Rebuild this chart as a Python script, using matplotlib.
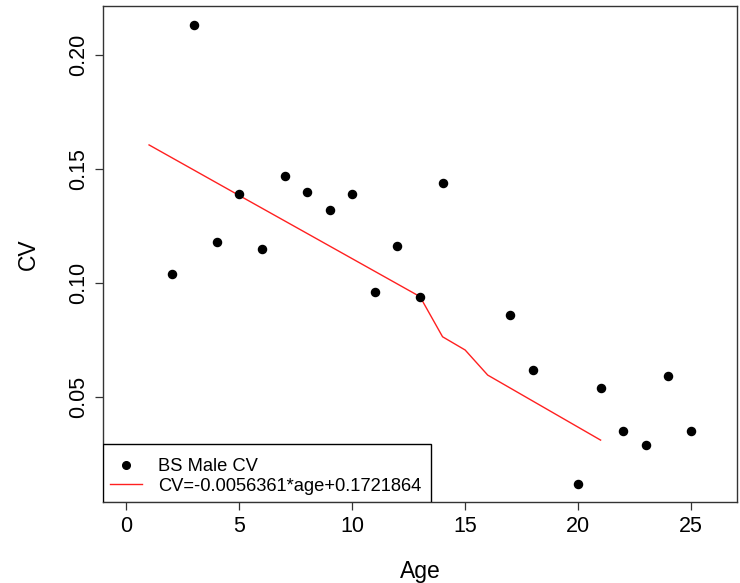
import matplotlib.pyplot as plt
from matplotlib.lines import Line2D
from matplotlib.patches import Rectangle

plt.rcParams['font.family'] = ['Liberation Sans', 'DejaVu Sans']

# observed coefficient of variation by age
age = [2, 3, 4, 5, 6, 7, 8, 9, 10, 11, 12, 13, 14, 17, 18, 20, 21, 22, 23, 24, 25]
cv = [0.104, 0.213, 0.118, 0.139, 0.115, 0.147, 0.140, 0.132, 0.139, 0.096,
      0.116, 0.094, 0.144, 0.086, 0.062, 0.012, 0.054, 0.035, 0.029, 0.059, 0.035]

# fitted curve
fit_age = [1, 5, 8, 13, 14, 15, 16, 21]
fit_cv = [0.1605, 0.1383, 0.1217, 0.0940, 0.0764, 0.0706, 0.0596, 0.0311]

fit_label = 'CV=-0.0056361*age+0.1721864'

fig = plt.figure(figsize=(7.4, 5.83), dpi=100)
ax = fig.add_axes([0.1392, 0.1389, 0.8567, 0.8508])

ax.scatter(age, cv, s=34, color='black', zorder=3)
ax.plot(fit_age, fit_cv, color='#ff2020', lw=1.0, zorder=2)

ax.set_xlim(-1.04, 27.04)
ax.set_ylim(0.00396, 0.2214)
ax.set_xticks([0, 5, 10, 15, 20, 25])
ax.set_yticks([0.05, 0.10, 0.15, 0.20])
ax.set_yticklabels(['0.05', '0.10', '0.15', '0.20'], rotation=90, va='center')
ax.tick_params(length=6, width=0.9, labelsize=15.5, color='#333333', pad=4)

for sp in ax.spines.values():
    sp.set_linewidth(1.0)
    sp.set_color('#333333')

ax.set_xlabel('Age', fontsize=16.5, labelpad=16.5)
ax.set_ylabel('CV', fontsize=16.5, labelpad=20)

# legend box drawn by hand (R-style: more room above than below)
ax.add_patch(Rectangle((0, 0), 0.517, 0.117, transform=ax.transAxes,
                       facecolor='white', edgecolor='black', lw=1.0, zorder=4))

handles = [
    Line2D([], [], marker='o', ls='none', color='black', markersize=5.5),
    Line2D([], [], color='#ff2020', lw=1.0),
]
leg = ax.legend(handles, ['BS Male CV', fit_label], loc='lower left',
                bbox_to_anchor=(0, 0), borderaxespad=0, fontsize=13.2,
                frameon=False, handlelength=1.7, handletextpad=0.9,
                labelspacing=0.15, borderpad=0.4)
leg.set_zorder(5)

fig.savefig('out.png', dpi=100)
